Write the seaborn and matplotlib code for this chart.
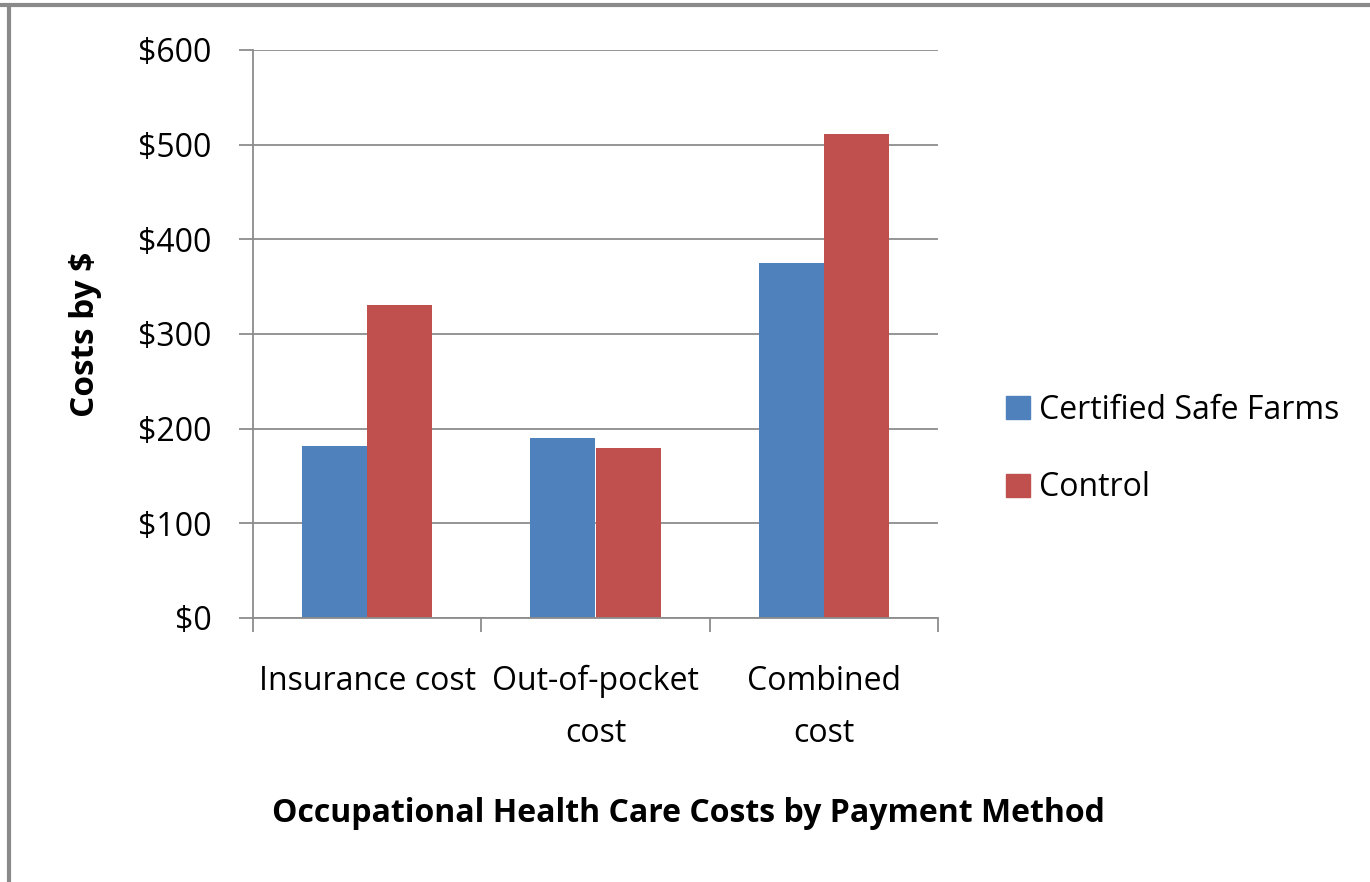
import matplotlib
matplotlib.use("Agg")
import matplotlib.pyplot as plt
import seaborn as sns
import pandas as pd
from matplotlib.lines import Line2D
from matplotlib.ticker import FuncFormatter, FixedLocator

categories = ["Insurance cost", "Out-of-pocket\ncost", "Combined\ncost"]
series_names = ["Certified Safe Farms", "Control"]
csf_values = [182, 190, 375]
control_values = [331, 180, 511]
y_ticks = [0, 100, 200, 300, 400, 500, 600]

df = pd.DataFrame({
    "category": categories * 2,
    "group": [series_names[0]] * 3 + [series_names[1]] * 3,
    "cost": csf_values + control_values,
})

sns.set_theme(style="white", rc={"text.color": "black", "axes.labelcolor": "black",
                                 "xtick.color": "black", "ytick.color": "black"})
plt.rcParams['font.family'] = ['Open Sans', 'DejaVu Sans']

fig = plt.figure(figsize=(13.7, 8.82), dpi=100)
ax = fig.add_axes([253/1370, 1-618/882, (938-253)/1370, (618-50)/882])

palette = {series_names[0]: "#4F81BD", series_names[1]: "#C0504D"}
sns.barplot(data=df, x="category", y="cost", hue="group", order=categories,
            hue_order=series_names, palette=palette, width=0.57, saturation=1,
            edgecolor="none", linewidth=0, ax=ax, legend=False)

ax.set_ylim(0, 600)
ax.set_xlim(-0.5, 2.5)
ax.yaxis.set_major_locator(FixedLocator(y_ticks))
ax.yaxis.set_major_formatter(FuncFormatter(lambda v, p: f"${int(v)}"))
grid_c = "#8C8C8C"
ax.yaxis.grid(True, color=grid_c, linewidth=1.3)
ax.set_axisbelow(True)
for s in ["top", "right"]:
    ax.spines[s].set_visible(False)
for s in ["left", "bottom"]:
    ax.spines[s].set_color(grid_c)
    ax.spines[s].set_linewidth(1.3)

ax.tick_params(axis="y", length=10, width=1.3, color=grid_c, labelcolor="black",
               pad=20, labelsize=23, direction="out", left=True)
ax.set_xticks([-0.5, 0.5, 1.5, 2.5], minor=True)
ax.tick_params(axis="x", which="minor", length=10, width=1.3, color=grid_c,
               direction="out", bottom=True)
ax.tick_params(axis="x", which="major", length=0, pad=34, labelsize=23,
               labelcolor="black")
for lab in ax.get_xticklabels():
    lab.set_linespacing(1.75)
    lab.set_verticalalignment("top")

ax.set_xlabel("")
ax.set_ylabel("Costs by $", fontsize=24, fontweight="bold", color="black")
ax.yaxis.set_label_coords(-(253-85)/685, 0.5)
ax.yaxis.label.set_verticalalignment("center")

fig.text(688/1370, 1-813/882, "Occupational Health Care Costs by Payment Method",
         ha="center", va="center", fontsize=23, fontweight="bold", color="black")

handles = [plt.Rectangle((0, 0), 1, 1, color=palette[n]) for n in series_names]
leg = fig.legend(handles, series_names, loc="center left",
                 bbox_to_anchor=(993/1370, 1-449/882), frameon=False, fontsize=23,
                 handlelength=0.75, handleheight=0.75, handletextpad=0.3,
                 labelspacing=1.4, borderaxespad=0)
for t in leg.get_texts():
    t.set_color("black")

frame_c = "#8A8A8A"
fig.add_artist(Line2D([0, 1], [1-5/882, 1-5/882], transform=fig.transFigure,
                      color=frame_c, linewidth=3))
fig.add_artist(Line2D([9/1370, 9/1370], [0, 1-5/882], transform=fig.transFigure,
                      color=frame_c, linewidth=3))

fig.savefig("out.png", dpi=100)
